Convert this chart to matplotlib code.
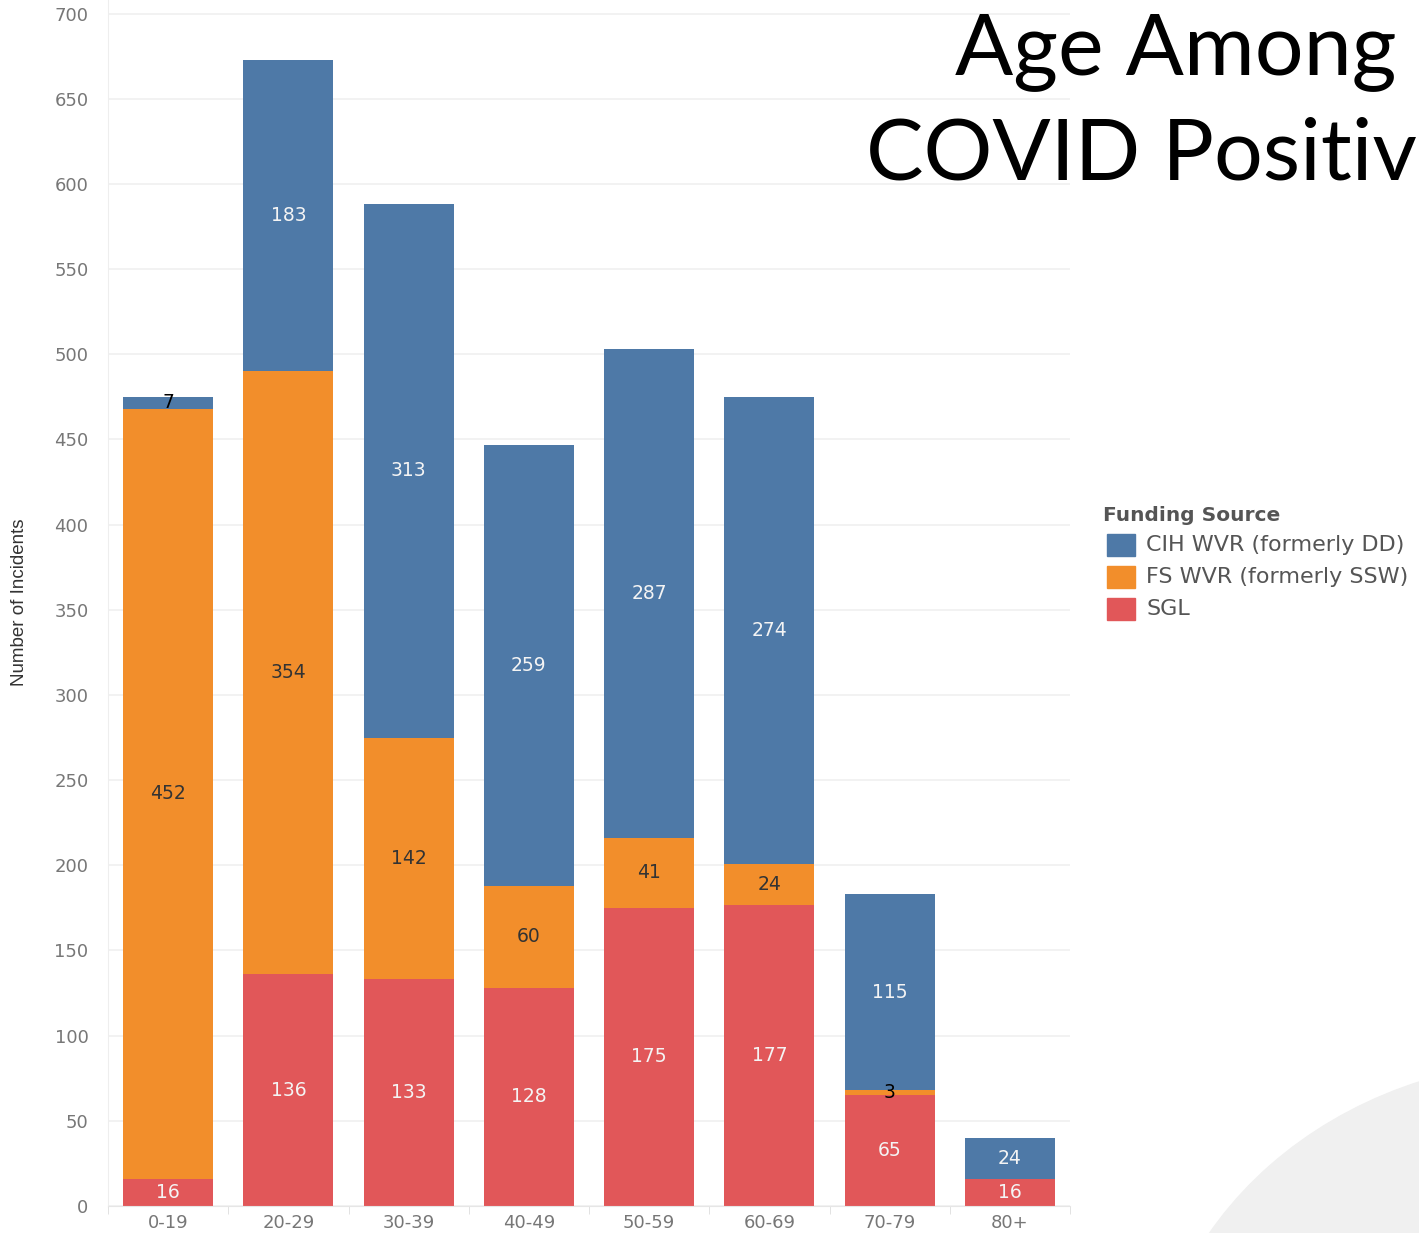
import numpy as np
import matplotlib.pyplot as plt
from matplotlib.patches import Ellipse

# Age groups and counts per funding source
age_groups = ['0-19', '20-29', '30-39', '40-49', '50-59', '60-69', '70-79', '80+']
sgl = [16, 136, 133, 128, 175, 177, 65, 16]
fs_wvr = [452, 354, 142, 60, 41, 24, 3, 0]
cih_wvr = [7, 183, 313, 259, 287, 274, 115, 24]

series_names = ['CIH WVR (formerly DD)', 'FS WVR (formerly SSW)', 'SGL']
colors = {'CIH WVR (formerly DD)': '#4e79a7',
          'FS WVR (formerly SSW)': '#f28e2b',
          'SGL': '#e15759'}

fig = plt.figure(figsize=(14.19, 12.33), dpi=100)

# light slide decoration in the bottom-right corner
fig.patches.append(Ellipse((1560 / 1419, 1 - 1420 / 1233), 820 / 1419, 720 / 1233,
                           transform=fig.transFigure, color='#f0f0f0',
                           figure=fig, zorder=0))

ax = fig.add_axes([108 / 1419, 27 / 1233, 962 / 1419, 1 - 27 / 1233])
ax.patch.set_alpha(0)

x = np.arange(len(age_groups))
width = 0.75
bottom = np.zeros(len(age_groups))

# stack from the bottom: SGL, FS WVR, CIH WVR
stack = [('SGL', sgl), ('FS WVR (formerly SSW)', fs_wvr), ('CIH WVR (formerly DD)', cih_wvr)]
for name, vals in stack:
    vals = np.array(vals)
    ax.bar(x, vals, width, bottom=bottom, color=colors[name], zorder=2)
    for xi, v, b in zip(x, vals, bottom):
        if v == 0:
            continue
        if v < 10:
            tc = 'black'
        elif name == 'FS WVR (formerly SSW)':
            tc = '#333333'
        else:
            tc = '#f4f4f4'
        ax.text(xi, b + v / 2, str(v), ha='center', va='center',
                fontsize=13.5, color=tc, zorder=3)
    bottom = bottom + vals

ax.set_xlim(-0.5, len(age_groups) - 0.5)
ax.set_ylim(0, 708)
ax.set_yticks(np.arange(0, 701, 50))
ax.set_xticks(x)
ax.set_xticklabels(age_groups, fontsize=13, color='#777777')
ax.set_xticks(np.arange(-0.5, len(age_groups), 1), minor=True)
ax.tick_params(axis='x', which='major', length=0, pad=6)
ax.tick_params(axis='x', which='minor', length=6, color='#dddddd')
ax.tick_params(axis='y', length=0, pad=14, labelsize=13, labelcolor='#777777')

ax.grid(axis='y', color='#f0f0f0', linewidth=1.2, zorder=0)
ax.set_axisbelow(True)
for s in ['top', 'right']:
    ax.spines[s].set_visible(False)
ax.spines['left'].set_color('#eeeeee')
ax.spines['bottom'].set_color('#e6e6e6')

fig.text(20 / 1419, 1 - 602 / 1233, 'Number of Incidents', rotation=90,
         ha='center', va='center', fontsize=13.5, color='#333333',
         family=['Liberation Sans', 'DejaVu Sans'])

# Title (runs off the right edge like the slide)
fig.text(955 / 1419, 1 - 52 / 1233, 'Age Among', fontsize=62,
         ha='left', va='center', color='black', family=['Lato', 'DejaVu Sans'])
fig.text(866 / 1419, 1 - 155 / 1233, 'COVID Positive', fontsize=62,
         ha='left', va='center', color='black', family=['Lato', 'DejaVu Sans'])

# Legend
fig.text(1103 / 1419, 1 - 516 / 1233, 'Funding Source', fontsize=14.5,
         fontweight='bold', color='#555555', ha='left', va='center')
for i, name in enumerate(series_names):
    yc = 545 + i * 32
    fig.patches.append(plt.Rectangle((1107 / 1419, 1 - (yc + 11) / 1233),
                                     28 / 1419, 22 / 1233,
                                     transform=fig.transFigure,
                                     color=colors[name], figure=fig))
    fig.text(1146 / 1419, 1 - yc / 1233, name, fontsize=16, color='#555555',
             ha='left', va='center')

fig.savefig('out.png', dpi=100)
